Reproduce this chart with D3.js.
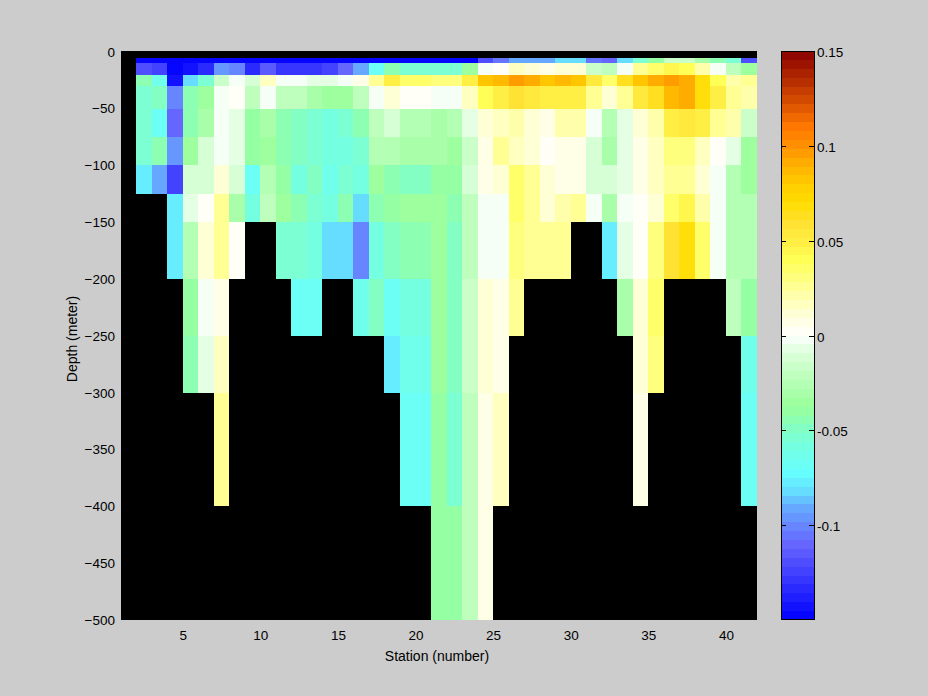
<!DOCTYPE html>
<html>
<head>
<meta charset="utf-8">
<script src="https://cdn.jsdelivr.net/npm/d3@7/dist/d3.min.js"></script>
<style>
  html, body { margin: 0; padding: 0; background: #cccccc; }
  svg { display: block; }
  text { font-family: "Liberation Sans", sans-serif; font-size: 13.5px; fill: #000; }
  .title { font-size: 14px; }
</style>
</head>
<body>
<script>
// stations along the x axis, each cell runs from its station to the next one
const stations = d3.range(2, 42);

// depth (m) of the top and bottom edge of every row
const rowEdges = [
  [5.5, 10], [10, 20], [20, 30], [30, 50], [50, 75], [75, 100], [100, 125],
  [125, 150], [150, 200], [200, 250], [250, 300], [300, 400], [400, 500],
];

// values per row, station 2 to 41, null = no data (shows the black axes behind)
const row0 = [-.15,-.15,-.15,-.15,-.15,-.15,-.15,-.15,-.15,-.15,-.15,-.15,-.15,-.15,-.15,-.15,-.15,-.15,-.15,-.15,-.15,-.15,-.12,-.105,-.09,-.09,-.09,-.08,-.08,-.105,-.11,-.08,-.052,-.038,-.016,-.016,-.03,-.045,-.055,-.12];
const row1 = [-.12,-.125,-.15,-.143,-.135,-.097,-.102,-.135,-.113,-.13,-.127,-.127,-.122,-.11,-.09,-.07,-.045,-.055,-.055,-.055,-.055,-.034,-.004,0,.018,.013,.009,.013,.013,-.016,-.02,-.001,.028,.035,.044,.04,.02,-.004,-.022,-.037];
const row2 = [-.045,-.065,-.143,-.08,-.055,-.017,-.002,-.012,.016,-.001,-.004,-.008,-.008,-.003,.006,.028,.05,.035,.035,.03,.03,.05,.08,.087,.096,.092,.084,.087,.08,.053,.036,.062,.084,.092,.098,.092,.07,.04,.021,.024];
const row3 = [-.055,-.047,-.102,-.045,-.036,-.002,.004,-.022,-.001,-.02,-.022,-.03,-.033,-.033,-.023,-.001,.012,.004,.004,-.001,-.001,.016,.04,.05,.06,.056,.05,.05,.05,.028,.012,.028,.053,.062,.087,.092,.07,.05,.028,.021];
const row4 = [-.055,-.07,-.11,-.045,-.03,-.001,-.008,-.038,-.03,-.043,-.05,-.055,-.06,-.055,-.045,-.023,-.013,-.028,-.028,-.029,-.026,-.009,.012,.016,.021,.012,.009,.02,.02,-.004,-.026,-.009,.012,.02,.05,.056,.047,.028,.019,-.015];
const row5 = [-.052,-.045,-.097,-.033,-.014,-.001,-.008,-.04,-.037,-.045,-.05,-.052,-.06,-.06,-.052,-.028,-.026,-.03,-.03,-.03,-.036,-.016,.008,.024,.016,.012,.004,.005,.008,-.01,-.029,-.009,.005,.016,.03,.03,.017,.002,-.008,-.036];
const row6 = [-.078,-.092,-.125,-.011,-.012,.01,-.012,-.066,-.024,-.042,-.058,-.05,-.065,-.056,-.06,-.036,-.046,-.05,-.05,-.038,-.038,-.014,.006,.012,.036,.024,.012,.006,.009,-.01,-.014,-.005,.006,.016,.028,.028,.012,-.001,-.025,-.034];
const row7 = [null,null,-.075,-.008,.002,.024,-.03,-.06,-.02,-.035,-.046,-.052,-.058,-.045,-.08,-.045,-.04,-.037,-.037,-.036,-.045,-.02,-.001,-.001,.036,.024,.012,.02,.024,-.002,-.029,-.002,.002,.012,.034,.044,.02,-.001,-.025,-.028];
const row8 = [null,null,-.075,-.028,.01,.028,.002,null,null,-.055,-.055,-.06,-.08,-.08,-.1,-.06,-.05,-.045,-.045,-.036,-.047,-.02,-.001,-.001,.03,.024,.024,.028,null,null,-.075,-.005,.002,.03,.06,.07,.034,-.001,-.028,-.028];
const row9 = [null,null,null,-.04,-.002,.006,null,null,null,null,-.07,-.07,null,null,-.065,-.05,-.07,-.06,-.06,-.036,-.05,-.016,.01,.006,.024,null,null,null,null,null,null,-.029,.012,.036,null,null,null,null,-.02,-.038];
const row10 = [null,null,null,-.045,-.005,.016,null,null,null,null,null,null,null,null,null,null,-.075,-.062,-.062,-.036,-.05,-.016,.014,.008,null,null,null,null,null,null,null,null,.013,.03,null,null,null,null,null,-.062];
const row11 = [null,null,null,null,null,.028,null,null,null,null,null,null,null,null,null,null,null,-.066,-.066,-.04,-.055,-.02,.008,.018,null,null,null,null,null,null,null,null,.008,null,null,null,null,null,null,-.066];
const row12 = [null,null,null,null,null,null,null,null,null,null,null,null,null,null,null,null,null,null,null,-.042,-.042,-.02,.006,null,null,null,null,null,null,null,null,null,null,null,null,null,null,null,null,null];
const rows = [row0, row1, row2, row3, row4, row5, row6, row7, row8, row9, row10, row11, row12];

// colormap stops
const colorStops = [-.15, -.11, -.1, -.091, -.082, -.072, -.057, -.047, -.037, -.03, -.02, -.008, 0, .01, .02, .03, .04, .05, .06, .07, .08, .09, .1, .11, .125, .15];
const colorValues = ['#0000ff', '#6666ff', '#6688ff', '#66aaff', '#66ddff', '#66ffff', '#77ffdd', '#88ffbb', '#99ff99', '#aaffaa', '#c0ffc0', '#e0ffe0', '#ffffff', '#ffffdd', '#ffffb0', '#ffff80', '#ffff55', '#ffee44', '#ffe030', '#ffdd00', '#ffcc00', '#ffb000', '#ff9000', '#ff7700', '#d04800', '#880000'];

const xTicks = [5, 10, 15, 20, 25, 30, 35, 40];
const yTicks = [0, -50, -100, -150, -200, -250, -300, -350, -400, -450, -500];
const barTicks = [0.15, 0.1, 0.05, 0, -0.05, -0.1];
const xTitle = 'Station (number)';
const yTitle = 'Depth (meter)';

// config
const config = {
  width: 928,
  height: 696,
  left: 121,
  right: 757,
  top: 51,
  bottom: 620,
  barLeft: 781,
  barRight: 815,
  levels: 64,
};

const svg = d3.select('body').append('svg')
  .attr('width', config.width)
  .attr('height', config.height);

const x = d3.scaleLinear().domain([1, 42]).range([config.left - 0.4, config.right]);
const y = d3.scaleLinear().domain([0, -500]).range([config.top + 0.8, config.bottom]);
const colorRamp = d3.scaleLinear().domain(colorStops).range(colorValues);
const barY = d3.scaleLinear().domain([-0.15, 0.15]).range([config.bottom, config.top]);

// same 64 flat levels for the cells and the colorbar
const levelOf = d3.scaleQuantize().domain([-0.15, 0.15]).range(d3.range(config.levels));
const levelValue = (l) => -0.15 + (l + 0.5) * 0.3 / config.levels;
const colorOf = (v) => colorRamp(levelValue(levelOf(v)));

// black axes background, missing cells let it show through
svg.append('rect')
  .attr('x', config.left)
  .attr('y', config.top)
  .attr('width', config.right - config.left)
  .attr('height', config.bottom - config.top)
  .attr('fill', '#000');

const cells = [];
rows.forEach((row, r) => {
  row.forEach((v, s) => {
    if (v !== null) cells.push({ station: stations[s], top: rowEdges[r][0], bottom: rowEdges[r][1], value: v });
  });
});

svg.append('g').attr('shape-rendering', 'crispEdges')
  .selectAll('rect')
  .data(cells)
  .enter().append('rect')
  .attr('x', (d) => Math.round(x(d.station)))
  .attr('y', (d) => Math.round(y(-d.top)))
  .attr('width', (d) => Math.round(x(d.station + 1)) - Math.round(x(d.station)))
  .attr('height', (d) => Math.round(y(-d.bottom)) - Math.round(y(-d.top)))
  .attr('fill', (d) => colorOf(d.value));

// axis ticks sit under the image in the original, so only the labels show
const xAxis = svg.append('g')
  .attr('transform', `translate(0,${config.bottom})`)
  .call(d3.axisBottom(x).tickValues(xTicks).tickSize(0).tickPadding(10));
xAxis.select('.domain').remove();

const yAxis = svg.append('g')
  .attr('transform', `translate(${config.left},0)`)
  .call(d3.axisLeft(y).tickValues(yTicks).tickSize(0).tickPadding(6).tickFormat(d3.format('d')));
yAxis.select('.domain').remove();

svg.selectAll('g').attr('font-family', null).attr('font-size', null);

svg.append('text')
  .attr('class', 'title')
  .attr('x', 437)
  .attr('y', 661)
  .attr('text-anchor', 'middle')
  .text(xTitle);

svg.append('text')
  .attr('class', 'title')
  .attr('transform', 'translate(77,339) rotate(-90)')
  .attr('text-anchor', 'middle')
  .text(yTitle);

// colorbar
const bar = svg.append('g');
bar.append('g').attr('shape-rendering', 'crispEdges')
  .selectAll('rect')
  .data(d3.range(config.levels))
  .enter().append('rect')
  .attr('x', config.barLeft)
  .attr('y', (l) => Math.round(barY(levelValue(l) + 0.15 / config.levels)))
  .attr('width', config.barRight - config.barLeft)
  .attr('height', (l) => Math.round(barY(levelValue(l) - 0.15 / config.levels)) - Math.round(barY(levelValue(l) + 0.15 / config.levels)))
  .attr('fill', (l) => colorRamp(levelValue(l)));

bar.append('rect')
  .attr('x', config.barLeft + 0.5)
  .attr('y', config.top + 0.5)
  .attr('width', config.barRight - config.barLeft - 1)
  .attr('height', config.bottom - config.top - 1)
  .attr('fill', 'none')
  .attr('stroke', '#000')
  .attr('shape-rendering', 'crispEdges');

barTicks.forEach((t) => {
  const ty = Math.round(barY(t)) + 0.5;
  bar.append('path')
    .attr('d', `M${config.barLeft},${ty}h5M${config.barRight - 6},${ty}h6`)
    .attr('stroke', '#000')
    .attr('shape-rendering', 'crispEdges');
  bar.append('text')
    .attr('x', config.barRight + 2)
    .attr('y', ty + 5)
    .text(t);
});
</script>
</body>
</html>
